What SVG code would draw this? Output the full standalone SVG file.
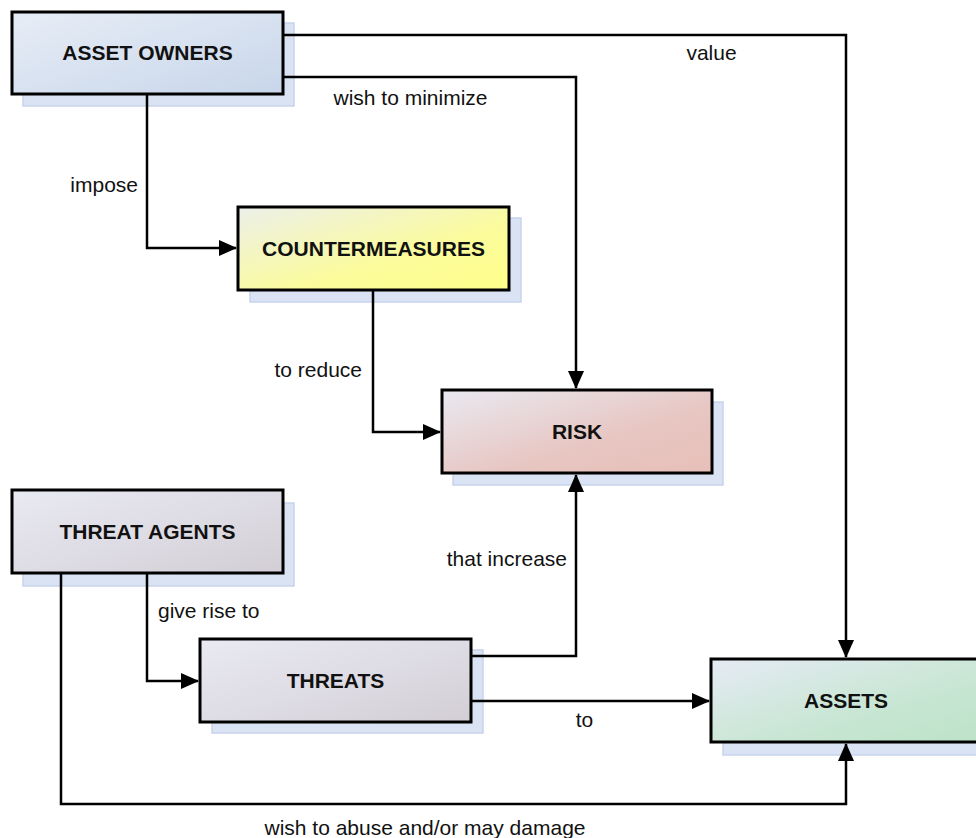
<svg xmlns="http://www.w3.org/2000/svg" width="976" height="838" viewBox="0 0 976 838">
<defs>
<linearGradient id="gBlue" x1="0" y1="0" x2="1" y2="1"><stop offset="0" stop-color="#e7edf6"/><stop offset="1" stop-color="#c8d6ea"/></linearGradient>
<linearGradient id="gYellow" x1="0" y1="0" x2="1" y2="1"><stop offset="0" stop-color="#ecf0ea"/><stop offset="0.6" stop-color="#fbfb9c"/><stop offset="1" stop-color="#ffff8a"/></linearGradient>
<linearGradient id="gRed" x1="0" y1="0" x2="1" y2="1"><stop offset="0" stop-color="#e9e9f1"/><stop offset="0.6" stop-color="#e7c6c2"/><stop offset="1" stop-color="#e8bfb9"/></linearGradient>
<linearGradient id="gGrey" x1="0" y1="0" x2="1" y2="1"><stop offset="0" stop-color="#e9eaf2"/><stop offset="1" stop-color="#d3ced6"/></linearGradient>
<linearGradient id="gGreen" x1="0" y1="0" x2="1" y2="1"><stop offset="0" stop-color="#e6ebf5"/><stop offset="0.6" stop-color="#c8e6d3"/><stop offset="1" stop-color="#bde3c8"/></linearGradient>
<marker id="arr" viewBox="0 0 18 16" refX="17" refY="8" markerWidth="18" markerHeight="16" markerUnits="userSpaceOnUse" orient="auto">
<path d="M0,0 L18,8 L0,16 Z" fill="#000"/>
</marker>
<style>
.shadow{fill:#d9e3f3;stroke:#c6d4eb;stroke-width:1.5}
.box{stroke:#000;stroke-width:3}
.title{font-family:"Liberation Sans",Arial,sans-serif;font-size:21px;font-weight:bold;text-anchor:middle;fill:#111}
.lbl{font-family:"Liberation Sans",Arial,sans-serif;font-size:21px;fill:#111}
.conn{fill:none;stroke:#000;stroke-width:2.5}
</style>
</defs>
<rect width="976" height="838" fill="#fff"/>

<g id="asset-owners">
<rect class="shadow" x="23" y="23" width="271" height="83"/>
<rect class="box" x="12" y="12" width="271" height="82" fill="url(#gBlue)"/>
<text class="title" x="147.5" y="60">ASSET OWNERS</text>
</g>
<g id="countermeasures">
<rect class="shadow" x="250" y="218" width="271" height="84"/>
<rect class="box" x="238" y="207" width="271" height="83" fill="url(#gYellow)"/>
<text class="title" x="373.5" y="256">COUNTERMEASURES</text>
</g>
<g id="risk">
<rect class="shadow" x="453" y="402" width="270" height="83"/>
<rect class="box" x="442" y="390" width="270" height="83" fill="url(#gRed)"/>
<text class="title" x="577" y="439">RISK</text>
</g>
<g id="threat-agents">
<rect class="shadow" x="23" y="503" width="271" height="83"/>
<rect class="box" x="12" y="490" width="271" height="83" fill="url(#gGrey)"/>
<text class="title" x="147.5" y="539">THREAT AGENTS</text>
</g>
<g id="threats">
<rect class="shadow" x="212" y="650" width="271" height="83"/>
<rect class="box" x="200" y="639" width="271" height="83" fill="url(#gGrey)"/>
<text class="title" x="335.5" y="688">THREATS</text>
</g>
<g id="assets">
<rect class="shadow" x="723" y="671" width="271" height="84"/>
<rect class="box" x="711" y="659" width="271" height="83" fill="url(#gGreen)"/>
<text class="title" x="846" y="708">ASSETS</text>
</g>

<g id="connectors">
<path class="conn" d="M283,35 H846 V657" marker-end="url(#arr)"/>
<path class="conn" d="M283,77 H576 V388" marker-end="url(#arr)"/>
<path class="conn" d="M147,94 V248 H236" marker-end="url(#arr)"/>
<path class="conn" d="M373,290 V432 H440" marker-end="url(#arr)"/>
<path class="conn" d="M147,573 V681 H198" marker-end="url(#arr)"/>
<path class="conn" d="M471,656 H576 V475" marker-end="url(#arr)"/>
<path class="conn" d="M471,701 H709" marker-end="url(#arr)"/>
<path class="conn" d="M61,573 V804 H846 V744" marker-end="url(#arr)"/>
</g>

<g id="labels">
<text class="lbl" x="711.5" y="60" text-anchor="middle">value</text>
<text class="lbl" x="410.5" y="105" text-anchor="middle">wish to minimize</text>
<text class="lbl" x="138" y="192" text-anchor="end">impose</text>
<text class="lbl" x="362" y="377" text-anchor="end">to reduce</text>
<text class="lbl" x="567" y="566" text-anchor="end">that increase</text>
<text class="lbl" x="158" y="618">give rise to</text>
<text class="lbl" x="584.5" y="727" text-anchor="middle">to</text>
<text class="lbl" x="425" y="835" text-anchor="middle">wish to abuse and/or may damage</text>
</g>
</svg>
